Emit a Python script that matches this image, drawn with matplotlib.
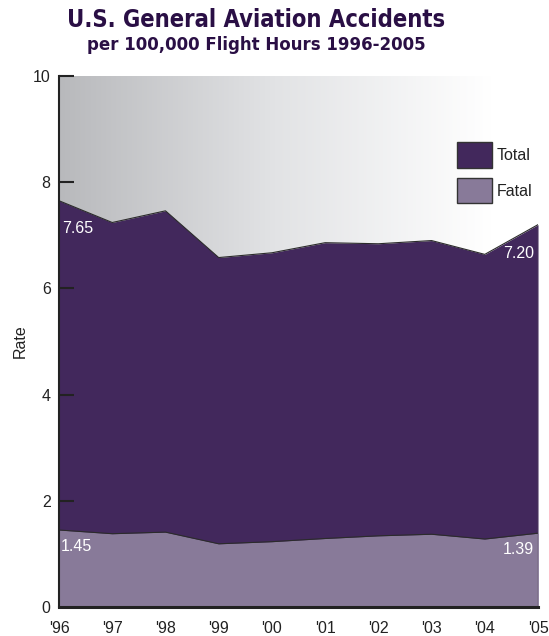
import numpy as np
import matplotlib
matplotlib.use("Agg")
import matplotlib.pyplot as plt
from matplotlib.patches import Patch
from matplotlib.colors import LinearSegmentedColormap
from matplotlib import font_manager

years = [1996, 1997, 1998, 1999, 2000, 2001, 2002, 2003, 2004, 2005]
year_labels = ["'96", "'97", "'98", "'99", "'00", "'01", "'02", "'03", "'04", "'05"]
total_rate = [7.65, 7.24, 7.46, 6.58, 6.67, 6.86, 6.84, 6.90, 6.64, 7.20]
fatal_rate = [1.45, 1.38, 1.41, 1.19, 1.23, 1.29, 1.34, 1.37, 1.28, 1.39]
y_ticks = [0, 2, 4, 6, 8, 10]

names = {f.name for f in font_manager.fontManager.ttflist}
narrow = "Liberation Sans Narrow" if "Liberation Sans Narrow" in names else "Liberation Sans"

total_color = "#42285c"
fatal_color = "#887a99"
title_color = "#2a0f45"

fig = plt.figure(figsize=(5.49, 6.36), dpi=100)
ax = fig.add_axes([0.1075, 0.0456, 0.8725, 0.835])

# gradient background
cmap = LinearSegmentedColormap.from_list("bg", [(0.0, "#b8b9bc"), (0.45, "#e2e3e5"), (0.9, "#ffffff"), (1.0, "#ffffff")])
grad = np.linspace(0, 1, 256).reshape(1, -1)
ax.imshow(grad, extent=[years[0], years[-1], 0, 10], aspect="auto", cmap=cmap, zorder=0)

ax.fill_between(years, 0, total_rate, color=total_color, zorder=1, linewidth=0)
ax.plot(years, total_rate, color="#2b2b2b", lw=0.8, zorder=2)
ax.fill_between(years, 0, fatal_rate, color=fatal_color, zorder=3, linewidth=0)
ax.plot(years, fatal_rate, color="#2b2b2b", lw=0.8, zorder=4)
ax.plot([years[-1], years[-1]], [0, total_rate[-1]], color="#555555", lw=1.0, zorder=4)

ax.set_xlim(years[0], years[-1])
ax.set_ylim(0, 10)
for s in ["top", "right"]:
    ax.spines[s].set_visible(False)
ax.spines["left"].set_linewidth(1.5)
ax.spines["left"].set_color("#222222")
ax.spines["bottom"].set_linewidth(2.2)
ax.spines["bottom"].set_color("#222222")
ax.spines["left"].set_zorder(5)
ax.spines["bottom"].set_zorder(5)

fs = 11.5
ax.set_yticks(y_ticks)
ax.set_yticklabels([str(v) for v in y_ticks], fontsize=fs, family=narrow, color="#222222")
ax.tick_params(axis="y", direction="in", length=11, width=1.5, color="#222222", pad=6)
ax.set_xticks(years)
ax.set_xticklabels(year_labels, fontsize=fs, family=narrow, color="#222222")
ax.tick_params(axis="x", length=0, pad=10)
ax.set_ylabel("Rate", fontsize=fs, family=narrow, color="#222222", labelpad=4)

lab_kw = dict(color="white", fontsize=fs, family=narrow, zorder=6)
ax.annotate(f"{total_rate[0]:.2f}", (years[0], total_rate[0]), xytext=(2, -20), textcoords="offset points", ha="left", va="center", **lab_kw)
ax.annotate(f"{total_rate[-1]:.2f}", (years[-1], total_rate[-1]), xytext=(-3, -21), textcoords="offset points", ha="right", va="center", **lab_kw)
ax.annotate(f"{fatal_rate[0]:.2f}", (years[0], fatal_rate[0]), xytext=(1, -12), textcoords="offset points", ha="left", va="center", **lab_kw)
ax.annotate(f"{fatal_rate[-1]:.2f}", (years[-1], fatal_rate[-1]), xytext=(-3, -12), textcoords="offset points", ha="right", va="center", **lab_kw)

handles = [Patch(facecolor=total_color, edgecolor="#333333", lw=1.0, label="Total"),
           Patch(facecolor=fatal_color, edgecolor="#333333", lw=1.0, label="Fatal")]
leg = ax.legend(handles=handles, loc="upper left", bbox_to_anchor=(0.83, 0.875), frameon=False,
                borderaxespad=0, borderpad=0,
                handlelength=2.2, handleheight=2.1, labelspacing=0.6, handletextpad=0.3,
                prop={"family": narrow, "size": fs})
for t in leg.get_texts():
    t.set_color("#222222")

fig.text(0.466, 0.968, "U.S. General Aviation Accidents", ha="center", va="center",
         fontsize=17, fontweight="bold", color=title_color, family="DejaVu Sans", fontstretch="condensed")
fig.text(0.466, 0.929, "per 100,000 Flight Hours 1996-2005", ha="center", va="center",
         fontsize=12, fontweight="bold", color=title_color, family="DejaVu Sans")

fig.savefig("out.png", dpi=100)
